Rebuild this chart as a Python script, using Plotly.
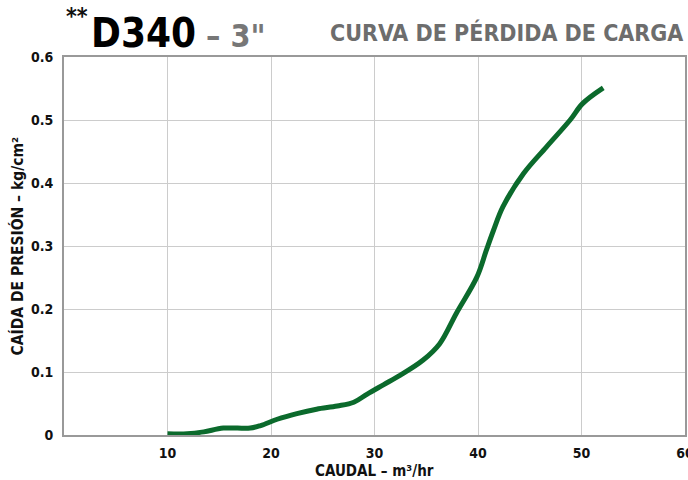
import plotly.graph_objects as go

# Pressure-loss curve for the D340 3" filter
caudal = [10.0, 11.9, 13.5, 15.4, 18.0, 19.0, 20.6, 22.5, 24.4, 26.4, 28.0, 29.3,
          30.9, 32.5, 34.7, 36.3, 37.9, 39.9, 40.8, 41.5, 42.4, 44.4, 46.6, 48.9,
          50.1, 52.1]
perdida = [0.002, 0.002, 0.005, 0.011, 0.011, 0.015, 0.025, 0.034, 0.041, 0.046,
           0.052, 0.065, 0.080, 0.095, 0.119, 0.145, 0.193, 0.251, 0.293, 0.325,
           0.362, 0.415, 0.457, 0.500, 0.526, 0.551]

x_ticks = [10, 20, 30, 40, 50, 60]
y_ticks = [0, 0.1, 0.2, 0.3, 0.4, 0.5, 0.6]
y_labels = ["0", "0.1", "0.2", "0.3", "0.4", "0.5", "0.6"]

FONT = "DejaVu Sans Condensed, DejaVu Sans, sans-serif"
GREEN = "#0b6a2c"

fig = go.Figure()
fig.add_trace(go.Scatter(
    x=caudal, y=perdida, mode="lines",
    line=dict(color=GREEN, width=5, shape="spline", smoothing=1.0),
    hoverinfo="skip", showlegend=False,
))

axis_common = dict(
    showgrid=True, gridcolor="#cccccc", gridwidth=1,
    showline=True, linecolor="#999999", linewidth=2, mirror=True,
    zeroline=False, ticks="", automargin=False,
    tickfont=dict(family=FONT, size=14, color="#111111", weight="bold"),
)

fig.update_xaxes(range=[0, 60], tickvals=x_ticks, ticklabelstandoff=4,
                 ticklabeloverflow="allow", **axis_common)
fig.update_yaxes(range=[0, 0.6], tickvals=y_ticks, ticktext=y_labels,
                 ticklabelstandoff=6, ticklabeloverflow="allow", **axis_common)

fig.update_layout(
    width=688, height=480,
    margin=dict(l=64, r=3, t=57, b=45),
    paper_bgcolor="white", plot_bgcolor="white",
    annotations=[
        dict(xref="paper", yref="paper", x=0.0, y=1.108, xanchor="left", yanchor="middle",
             showarrow=False, text="<b>**</b>",
             font=dict(family=FONT, size=23, color="#111111")),
        dict(xref="paper", yref="paper", x=0.04, y=0.997, xanchor="left", yanchor="bottom",
             showarrow=False,
             text=("<span style='font-size:40px;color:#000'><b>D340</b></span>"
                   "<span style='font-size:32px;color:#777'><b> – 3\"</b></span>"),
             font=dict(family=FONT)),
        dict(xref="paper", yref="paper", x=1.0, y=1.025, xanchor="right", yanchor="bottom",
             showarrow=False,
             text="<b>CURVA DE PÉRDIDA DE CARGA</b>",
             font=dict(family=FONT, size=23, color="#6d6d6d")),
        dict(xref="paper", yref="paper", x=0.5, y=1.138, xanchor="center", yanchor="bottom",
             showarrow=False,
             text="<b>CAUDAL – m³/hr</b>",
             font=dict(family=FONT, size=15, color="#111111")),
        dict(xref="paper", yref="paper", x=0.5, y=-0.065, xanchor="center", yanchor="top",
             showarrow=False,
             text="<b>CAUDAL – m³/hr</b>",
             font=dict(family=FONT, size=15, color="#111111")),
        dict(xref="paper", yref="paper", x=-0.075, y=0.5, xanchor="center", yanchor="middle",
             showarrow=False, textangle=-90,
             text="<b>CAÍDA DE PRESIÓN – kg/cm²</b>",
             font=dict(family=FONT, size=15.5, color="#111111")),
    ],
)

fig.write_html("out.html")
